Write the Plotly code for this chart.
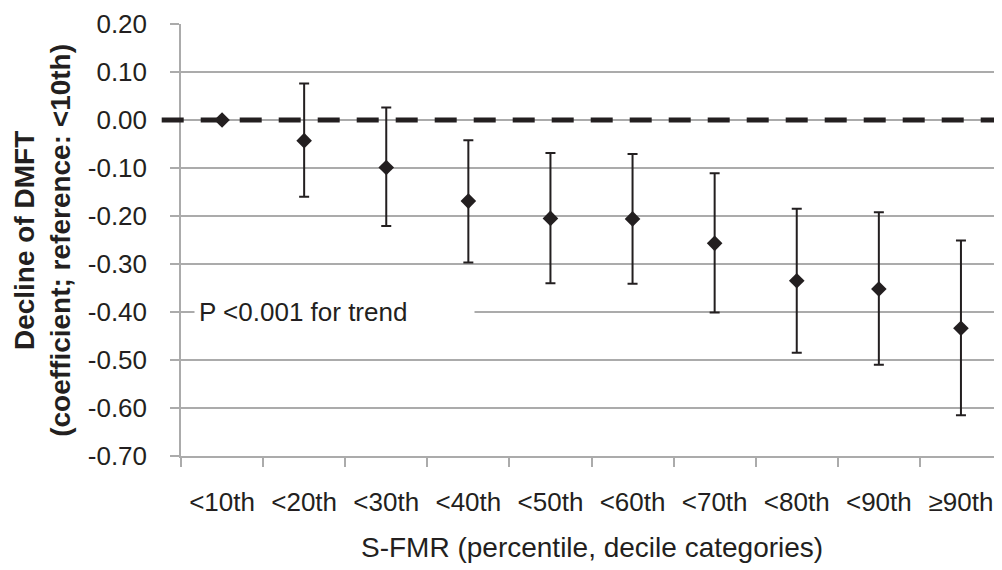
import plotly.graph_objects as go

# ---- data ----
categories = ["<10th", "<20th", "<30th", "<40th", "<50th", "<60th", "<70th", "<80th", "<90th", "≥90th"]
coef = [0.000, -0.043, -0.099, -0.169, -0.205, -0.206, -0.257, -0.335, -0.352, -0.434]
ci_upper = [None, 0.076, 0.026, -0.042, -0.069, -0.071, -0.111, -0.185, -0.192, -0.251]
ci_lower = [None, -0.160, -0.221, -0.297, -0.340, -0.341, -0.401, -0.485, -0.510, -0.615]
ytick_vals = [0.20, 0.10, 0.00, -0.10, -0.20, -0.30, -0.40, -0.50, -0.60, -0.70]
ytick_text = ["0.20", "0.10", "0.00", "-0.10", "-0.20", "-0.30", "-0.40", "-0.50", "-0.60", "-0.70"]
reference_value = 0.0
trend_text = "P <0.001 for trend"
trend_y = -0.40
y_title = "Decline of DMFT<br>(coefficient; reference: <10th)"
x_title = "S-FMR (percentile, decile categories)"

err_plus = [(u - c) if u is not None else float("nan") for u, c in zip(ci_upper, coef)]
err_minus = [(c - l) if l is not None else float("nan") for l, c in zip(ci_lower, coef)]

FONT = "Arial, 'Liberation Sans', sans-serif"
INK = "#231f20"
GRID = "#ababab"

fig = go.Figure()
fig.add_trace(go.Scatter(
    x=categories, y=coef, mode="markers",
    marker=dict(symbol="diamond", size=12, color=INK, line=dict(width=0)),
    error_y=dict(type="data", symmetric=False, array=err_plus, arrayminus=err_minus,
                 color=INK, thickness=2, width=5),
    showlegend=False, cliponaxis=False,
))

fig.add_shape(type="line", xref="paper", yref="y", x0=-0.0235, x1=1.0,
              y0=reference_value, y1=reference_value,
              line=dict(color=INK, width=5, dash="22px,17px"), layer="above")

fig.add_annotation(text=trend_text, xref="paper", yref="y", x=0.0155, y=trend_y,
                   xanchor="left", yanchor="middle", align="left", width=271,
                   showarrow=False, bgcolor="white", borderpad=4,
                   font=dict(family=FONT, size=26, color=INK))

fig.add_annotation(text=y_title, xref="paper", yref="paper", x=-0.1695, y=0.5,
                   xanchor="center", yanchor="middle", textangle=-90, showarrow=False,
                   font=dict(family=FONT, size=28, color=INK, weight="bold"))

fig.add_annotation(text=x_title, xref="paper", yref="paper", x=0.5, y=-0.211,
                   xanchor="center", yanchor="middle", showarrow=False,
                   font=dict(family=FONT, size=28, color=INK))

fig.update_xaxes(type="category", range=[-0.5, len(categories) - 0.5],
                 tickson="boundaries", ticks="outside", ticklen=9, tickwidth=1.5,
                 tickcolor=GRID, showgrid=False, showline=True, linecolor=GRID,
                 linewidth=1.5, zeroline=False, ticklabelstandoff=22,
                 tickfont=dict(family=FONT, size=26, color=INK))
fig.update_yaxes(range=[-0.70, 0.20], tickvals=ytick_vals, ticktext=ytick_text,
                 ticks="outside", ticklen=9, tickwidth=1.5, tickcolor=GRID,
                 showgrid=True, gridcolor=GRID, gridwidth=1.5,
                 showline=True, linecolor=GRID, linewidth=1.5, zeroline=False,
                 ticklabelstandoff=18,
                 tickfont=dict(family=FONT, size=26, color=INK))

# page body has an 8px margin: shrink the figure so the plot lands where the reference has it
fig.update_layout(width=994, height=562, margin=dict(l=173, r=0, t=16, b=114),
                  paper_bgcolor="white", plot_bgcolor="white")

fig.write_html("out.html")
